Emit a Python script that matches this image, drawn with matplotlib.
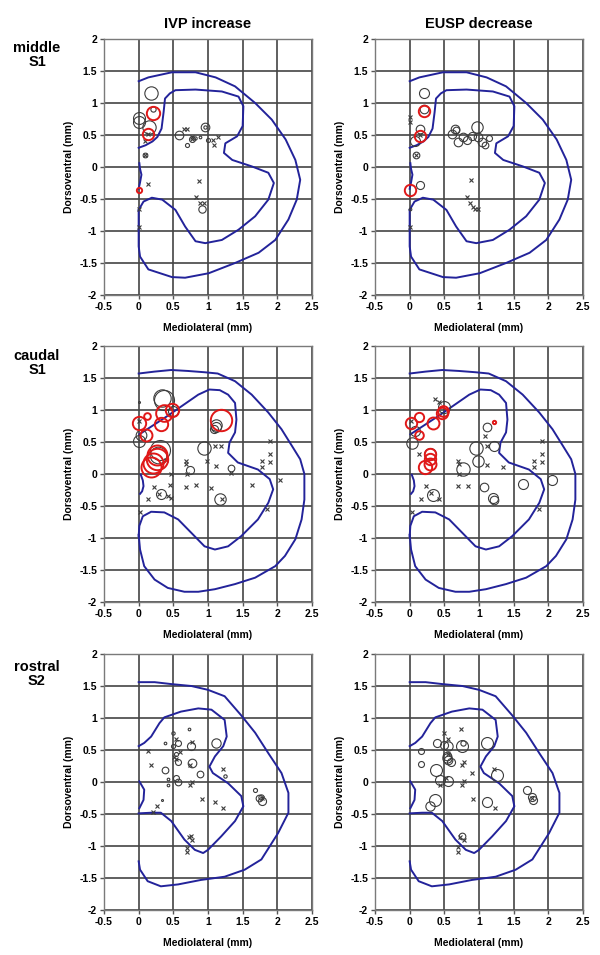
import matplotlib
matplotlib.use("Agg")
import matplotlib.pyplot as plt
import numpy as np

plt.rcParams['font.family'] = ['Liberation Sans', 'DejaVu Sans']

# ---------------- data ----------------
col_titles = ["IVP increase", "EUSP decrease"]
row_titles = ["middle\nS1", "caudal\nS1", "rostral\nS2"]
x_ticks = [-0.5, 0, 0.5, 1, 1.5, 2, 2.5]
x_ticklabels = ["-0.5", "0", "0.5", "1", "1.5", "2", "2.5"]
y_ticks = [-2, -1.5, -1, -0.5, 0, 0.5, 1, 1.5, 2]
y_ticklabels = ["-2", "-1.5", "-1", "-0.5", "0", "0.5", "1", "1.5", "2"]

# outlines (one set per segmental level)
s1m_outer_x = [0, 0.14, 0.48, 0.82, 1.11, 1.39, 1.68, 1.92, 2.12, 2.26, 2.33, 2.28, 2.16, 1.97, 1.73, 1.39, 1.01, 0.67, 0.48, 0.14, 0.02, 0, 0, 0]
s1m_outer_y = [1.34, 1.40, 1.48, 1.48, 1.40, 1.26, 1.0, 0.74, 0.43, 0.11, -0.20, -0.51, -0.82, -1.14, -1.34, -1.5, -1.66, -1.73, -1.72, -1.60, -1.40, -1.24, -0.98, -0.67]
s1m_inner_x = [0, 0.10, 0.20, 0.27, 0.33, 0.36, 0.38, 0.45, 0.53, 0.82, 1.2, 1.44, 1.51, 1.5, 1.42, 1.25, 1.23, 1.35, 1.63, 1.87, 1.95, 1.87, 1.68, 1.44, 1.2, 0.96, 0.82, 0.67, 0.53, 0.34, 0.19, 0.07, 0]
s1m_inner_y = [0.30, 0.34, 0.40, 0.47, 0.60, 0.86, 1.07, 1.15, 1.2, 1.21, 1.18, 1.10, 0.95, 0.64, 0.48, 0.37, 0.22, 0.11, 0.01, -0.09, -0.25, -0.51, -0.77, -0.98, -1.14, -1.19, -1.16, -0.93, -0.67, -0.51, -0.48, -0.54, -0.67]
s1m_canal_x = [0.01, 0.02, 0.04, 0.02, 0.0]
s1m_canal_y = [0.06, -0.03, -0.12, -0.24, -0.34]

s1c_outer_x = [0, 0.23, 0.47, 0.71, 0.95, 1.14, 1.39, 1.63, 1.87, 2.06, 2.21, 2.33, 2.39, 2.39, 2.35, 2.26, 2.11, 1.97, 1.68, 1.39, 1.10, 0.86, 0.66, 0.42, 0.23, 0.08, 0.02, 0]
s1c_outer_y = [1.57, 1.60, 1.625, 1.61, 1.59, 1.57, 1.45, 1.24, 0.96, 0.70, 0.44, 0.23, 0, -0.40, -0.71, -1.02, -1.28, -1.44, -1.62, -1.72, -1.80, -1.84, -1.84, -1.78, -1.65, -1.44, -1.18, -0.95]
s1c_inner_x = [0.01, 0.42, 0.66, 0.86, 1.02, 1.17, 1.29, 1.39, 1.41, 1.39, 1.31, 1.29, 1.43, 1.72, 1.89, 1.94, 1.87, 1.72, 1.48, 1.29, 1.10, 0.95, 0.76, 0.57, 0.37, 0.18, 0.06, 0.01, 0]
s1c_inner_y = [0.62, 0.91, 1.09, 1.24, 1.32, 1.31, 1.24, 1.11, 0.85, 0.65, 0.49, 0.33, 0.18, 0.07, -0.08, -0.24, -0.45, -0.71, -0.97, -1.13, -1.18, -1.13, -0.92, -0.71, -0.60, -0.59, -0.66, -0.81, -0.97]
s1c_canal_x = [0.03, 0.06, 0.07, 0.05, 0.02]
s1c_canal_y = [-0.01, -0.10, -0.19, -0.27, -0.31]

s2r_outer_x = [0, 0.23, 0.47, 0.76, 1.0, 1.24, 1.48, 1.68, 1.87, 2.06, 2.16, 2.16, 2.01, 1.77, 1.53, 1.24, 0.90, 0.57, 0.32, 0.13, 0.02, 0]
s2r_outer_y = [1.56, 1.56, 1.53, 1.50, 1.44, 1.34, 1.04, 0.77, 0.45, 0.14, -0.17, -0.48, -0.80, -1.21, -1.37, -1.48, -1.53, -1.60, -1.63, -1.55, -1.37, -1.24]
s2r_inner_x = [0, 0.08, 0.18, 0.30, 0.37, 0.61, 0.86, 1.05, 1.24, 1.27, 1.22, 1.10, 1.02, 1.07, 1.29, 1.48, 1.51, 1.39, 1.19, 1.0, 0.93, 0.81, 0.66, 0.47, 0.32, 0.18, 0]
s2r_inner_y = [0.56, 0.61, 0.71, 0.92, 1.01, 1.10, 1.15, 1.13, 0.97, 0.71, 0.56, 0.40, 0.24, 0.14, -0.02, -0.22, -0.38, -0.61, -0.85, -1.06, -1.11, -1.06, -0.90, -0.61, -0.48, -0.48, -0.49]
s2r_canal_x = [0.01, 0.08, 0.07, 0.01]
s2r_canal_y = [0.01, -0.12, -0.28, -0.41]

# panel 1: middle S1, IVP increase
p1_circ_x = [0.18, 0.20, 0.00, 0.01, 0.15, 0.09, 0.58, 0.69, 0.77, 0.81, 0.89, 0.96, 0.96, 1.00, 0.91]
p1_circ_y = [1.15, 0.90, 0.76, 0.70, 0.63, 0.19, 0.50, 0.35, 0.43, 0.46, 0.47, 0.62, 0.62, 0.42, -0.65]
p1_circ_d = [9.6, 3.8, 8.6, 8.6, 9.6, 3.4, 6.2, 2.9, 4.3, 2.4, 1.9, 6.2, 2.4, 2.9, 5.3]
p1_red_x = [0.20, 0.13, 0.00]
p1_red_y = [0.85, 0.51, -0.36]
p1_red_d = [9.6, 8.2, 3.8]
p1_cross_x = [0.13, 0.09, 0.09, 0.14, 0.0, 0.0, 0.65, 0.70, 0.77, 0.77, 1.07, 1.09, 1.14, 0.87, 0.82, 0.88, 0.94]
p1_cross_y = [0.51, 0.40, 0.19, -0.27, -0.65, -0.94, 0.59, 0.59, 0.47, 0.43, 0.42, 0.35, 0.47, -0.22, -0.47, -0.56, -0.57]

# panel 2: middle S1, EUSP decrease
p2_circ_x = [0.20, 0.21, 0.15, 0.08, 0.09, 0.15, 0.0, 0.61, 0.65, 0.67, 0.70, 0.77, 0.82, 0.90, 0.97, 0.99, 1.05, 1.15, 1.09]
p2_circ_y = [1.15, 0.91, 0.60, 0.40, 0.19, -0.28, -0.66, 0.52, 0.60, 0.58, 0.39, 0.47, 0.42, 0.48, 0.62, 0.47, 0.39, 0.46, 0.34]
p2_circ_d = [7.2, 6.2, 6.2, 7.2, 4.8, 5.8, 1.9, 6.2, 6.2, 4.8, 6.2, 6.2, 5.8, 5.8, 8.2, 6.2, 6.2, 4.3, 4.8]
p2_red_x = [0.20, 0.15, 0.00]
p2_red_y = [0.87, 0.49, -0.36]
p2_red_d = [8.2, 8.2, 8.2]
p2_cross_x = [0.0, 0.0, 0.15, 0.09, 0.0, 0.88, 0.82, 0.87, 0.92, 0.94, 0.98]
p2_cross_y = [0.78, 0.70, 0.50, 0.19, -0.94, -0.21, -0.47, -0.57, -0.62, -0.66, -0.65]

# panel 3: caudal S1, IVP increase
p3_circ_x = [0.00, 0.34, 0.37, 0.49, 0.00, 0.03, 0.31, 0.28, 1.11, 1.12, 1.08, 0.94, 1.33, 0.74, 0.32, 1.18]
p3_circ_y = [1.12, 1.18, 1.15, 0.98, 0.52, 0.61, 0.37, 0.30, 0.76, 0.73, 0.70, 0.41, 0.09, 0.06, -0.32, -0.39]
p3_circ_d = [1.4, 12.5, 14.4, 7.2, 8.6, 7.7, 14.4, 12.0, 8.2, 7.2, 5.8, 9.6, 4.8, 5.8, 7.2, 8.2]
p3_red_x = [0.37, 0.48, 0.32, 0.00, 0.12, 0.11, 1.19, 0.26, 0.27, 0.21, 0.18]
p3_red_y = [0.96, 1.00, 0.78, 0.79, 0.90, 0.61, 0.84, 0.30, 0.23, 0.17, 0.11]
p3_red_d = [12.0, 9.6, 9.6, 9.6, 4.8, 8.6, 15.4, 14.4, 15.4, 14.4, 14.4]
p3_cross_x = [0.01, 1.10, 1.19, 1.90, 1.90, 1.90, 1.78, 1.78, 2.04, 1.85, 0.98, 1.11, 1.33, 1.63, 1.05, 0.82, 0.68, 0.68, 0.68, 0.70, 0.46, 0.45, 0.22, 0.14, 0.30, 0.42, 0.47, 0.02, 0.40, 1.20]
p3_cross_y = [0.83, 0.43, 0.43, 0.51, 0.32, 0.18, 0.20, 0.11, -0.09, -0.54, 0.21, 0.13, 0.01, -0.17, -0.22, -0.17, -0.20, 0.21, 0.16, 0.0, 0.0, -0.17, -0.20, -0.39, -0.31, -0.34, -0.38, -0.60, 0.22, -0.39]

# panel 4: caudal S1, EUSP decrease
p4_circ_x = [0.50, 0.07, 0.04, 0.29, 1.12, 0.96, 1.21, 0.99, 0.77, 1.07, 1.20, 1.21, 1.64, 2.06, 0.33]
p4_circ_y = [1.04, 0.67, 0.49, 0.32, 0.73, 0.40, 0.44, 0.20, 0.08, -0.21, -0.37, -0.40, -0.16, -0.09, -0.33]
p4_circ_d = [8.6, 7.2, 8.2, 8.6, 6.2, 9.6, 7.2, 8.2, 9.6, 6.2, 7.2, 6.2, 7.2, 7.2, 8.6]
p4_red_x = [0.02, 0.13, 0.33, 0.13, 0.47, 0.48, 1.21, 0.30, 0.30, 0.22, 0.29]
p4_red_y = [0.80, 0.89, 0.79, 0.61, 0.96, 0.98, 0.82, 0.32, 0.24, 0.11, 0.15]
p4_red_d = [8.2, 6.7, 8.6, 6.2, 8.2, 7.7, 2.4, 8.2, 8.2, 9.6, 8.6]
p4_cross_x = [0.36, 0.42, 0.02, 0.13, 1.08, 1.11, 1.12, 1.35, 0.69, 0.71, 0.71, 0.69, 0.84, 1.91, 1.91, 1.91, 1.79, 1.79, 1.86, 0.24, 0.16, 0.31, 0.42, 0.04]
p4_cross_y = [1.17, 1.13, 0.83, 0.31, 0.59, 0.44, 0.14, 0.11, 0.20, 0.15, 0.0, -0.19, -0.18, 0.51, 0.32, 0.19, 0.20, 0.11, -0.55, -0.19, -0.39, -0.30, -0.39, -0.59]

# panel 5: rostral S2, IVP increase
p5_circ_x = [0.73, 0.49, 0.38, 0.57, 0.50, 0.75, 1.11, 0.54, 0.57, 0.77, 0.38, 0.89, 1.25, 0.54, 0.57, 0.43, 0.43, 0.34, 1.68, 1.73, 1.78, 1.76]
p5_circ_y = [0.83, 0.76, 0.61, 0.61, 0.57, 0.56, 0.61, 0.43, 0.31, 0.30, 0.19, 0.13, 0.10, 0.06, 0.0, 0.04, -0.05, -0.28, -0.13, -0.25, -0.29, -0.24]
p5_circ_d = [1.9, 2.4, 1.9, 4.3, 2.9, 5.8, 6.7, 2.9, 4.3, 6.2, 4.8, 4.8, 2.4, 4.3, 4.8, 1.9, 1.9, 1.4, 2.9, 4.8, 5.8, 3.8]
p5_cross_x = [0.54, 0.77, 0.14, 0.59, 0.51, 0.54, 0.18, 0.74, 1.21, 0.77, 0.74, 0.91, 1.10, 1.22, 0.27, 0.20, 0.72, 0.77, 0.75, 0.69, 0.69, 1.78]
p5_cross_y = [0.67, 0.62, 0.48, 0.47, 0.39, 0.36, 0.27, 0.26, 0.21, 0.0, -0.04, -0.27, -0.31, -0.41, -0.37, -0.47, -0.86, -0.90, -0.84, -1.03, -1.09, -0.25]

# panel 6: rostral S2, EUSP decrease
p6_circ_x = [0.40, 0.49, 0.56, 0.75, 0.77, 1.11, 0.16, 0.54, 0.54, 0.56, 0.59, 0.17, 0.38, 0.44, 0.56, 1.26, 1.11, 0.36, 0.29, 1.69, 1.76, 1.78, 0.76]
p6_circ_y = [0.61, 0.58, 0.57, 0.56, 0.61, 0.61, 0.48, 0.41, 0.375, 0.35, 0.31, 0.28, 0.19, 0.03, 0.01, 0.11, -0.32, -0.28, -0.37, -0.12, -0.23, -0.28, -0.85]
p6_circ_d = [5.8, 5.8, 6.7, 8.6, 3.8, 8.6, 4.3, 6.2, 6.7, 6.2, 5.8, 4.3, 8.6, 7.2, 7.2, 8.6, 7.2, 8.6, 6.7, 5.8, 5.8, 5.8, 4.8]
p6_cross_x = [0.74, 0.49, 0.56, 0.78, 0.75, 0.90, 0.78, 0.75, 0.53, 0.56, 0.92, 1.23, 1.22, 0.79, 0.73, 0.69, 0.69, 1.76, 0.44]
p6_cross_y = [0.83, 0.76, 0.67, 0.32, 0.26, 0.14, 0.01, -0.04, 0.06, 0.43, -0.27, -0.41, 0.20, -0.91, -0.86, -1.02, -1.09, -0.25, -0.05]

# ---------------- drawing ----------------
BLUE = '#23239a'
GRAY = '#3c3c3c'
RED = '#e01818'

outlines = [
    (s1m_outer_x, s1m_outer_y, s1m_inner_x, s1m_inner_y, s1m_canal_x, s1m_canal_y),
    (s1c_outer_x, s1c_outer_y, s1c_inner_x, s1c_inner_y, s1c_canal_x, s1c_canal_y),
    (s2r_outer_x, s2r_outer_y, s2r_inner_x, s2r_inner_y, s2r_canal_x, s2r_canal_y),
]
panels = [
    [(p1_circ_x, p1_circ_y, p1_circ_d, p1_red_x, p1_red_y, p1_red_d, p1_cross_x, p1_cross_y),
     (p2_circ_x, p2_circ_y, p2_circ_d, p2_red_x, p2_red_y, p2_red_d, p2_cross_x, p2_cross_y)],
    [(p3_circ_x, p3_circ_y, p3_circ_d, p3_red_x, p3_red_y, p3_red_d, p3_cross_x, p3_cross_y),
     (p4_circ_x, p4_circ_y, p4_circ_d, p4_red_x, p4_red_y, p4_red_d, p4_cross_x, p4_cross_y)],
    [(p5_circ_x, p5_circ_y, p5_circ_d, [], [], [], p5_cross_x, p5_cross_y),
     (p6_circ_x, p6_circ_y, p6_circ_d, [], [], [], p6_cross_x, p6_cross_y)],
]

W, H = 600, 955
fig = plt.figure(figsize=(W / 100, H / 100), dpi=100)

lefts = [104, 375]
axw = 208
tops = [39, 346, 654]
axh = 256

for r in range(3):
    for c in range(2):
        ax = fig.add_axes([lefts[c] / W, 1 - (tops[r] + axh) / H, axw / W, axh / H])
        ax.set_xlim(-0.5, 2.5)
        ax.set_ylim(-2, 2)
        ax.set_xticks(x_ticks)
        ax.set_xticklabels(x_ticklabels, fontsize=7.5, fontweight='bold')
        ax.set_yticks(y_ticks)
        ax.set_yticklabels(y_ticklabels, fontsize=7.5, fontweight='bold')
        ax.tick_params(length=3, width=1, color='#555555', pad=2)
        ax.grid(True, color='#444444', linewidth=1.2, zorder=0)
        ax.set_axisbelow(True)
        for sp in ax.spines.values():
            sp.set_color('#7a7a7a')
            sp.set_linewidth(1.0)
        ox, oy, ix, iy, cx, cy = outlines[r]
        ax.plot(ox, oy, color=BLUE, lw=1.4, zorder=2)
        ax.plot(ix, iy, color=BLUE, lw=1.4, zorder=2)
        ax.plot(cx, cy, color=BLUE, lw=1.4, zorder=2)

        gx, gy, gd, rx, ry, rd, xx, xy = panels[r][c]
        for x, y, d in zip(gx, gy, gd):
            ax.plot([x], [y], marker='o', ms=d, mfc='none', mec=GRAY, mew=0.8, zorder=3)
        for x, y, d in zip(rx, ry, rd):
            ax.plot([x], [y], marker='o', ms=d, mfc='none', mec=RED, mew=1.4, zorder=4)
        ax.plot(xx, xy, ls='none', marker='x', ms=3.5, mec=GRAY, mew=0.8, zorder=3)

        ax.set_ylabel("Dorsoventral (mm)", fontsize=7.5, fontweight='bold', labelpad=4)
        ax.set_xlabel("Mediolateral (mm)", fontsize=7.5, fontweight='bold', labelpad=8)
        if r == 0:
            ax.set_title(col_titles[c], fontsize=10.5, fontweight='bold', pad=8)

row_y = [55, 363, 674]
for r in range(3):
    fig.text(37 / W, 1 - row_y[r] / H, row_titles[r], ha='center', va='center',
             fontsize=10.5, fontweight='bold', linespacing=1.05)

fig.savefig("out.png", dpi=100)
